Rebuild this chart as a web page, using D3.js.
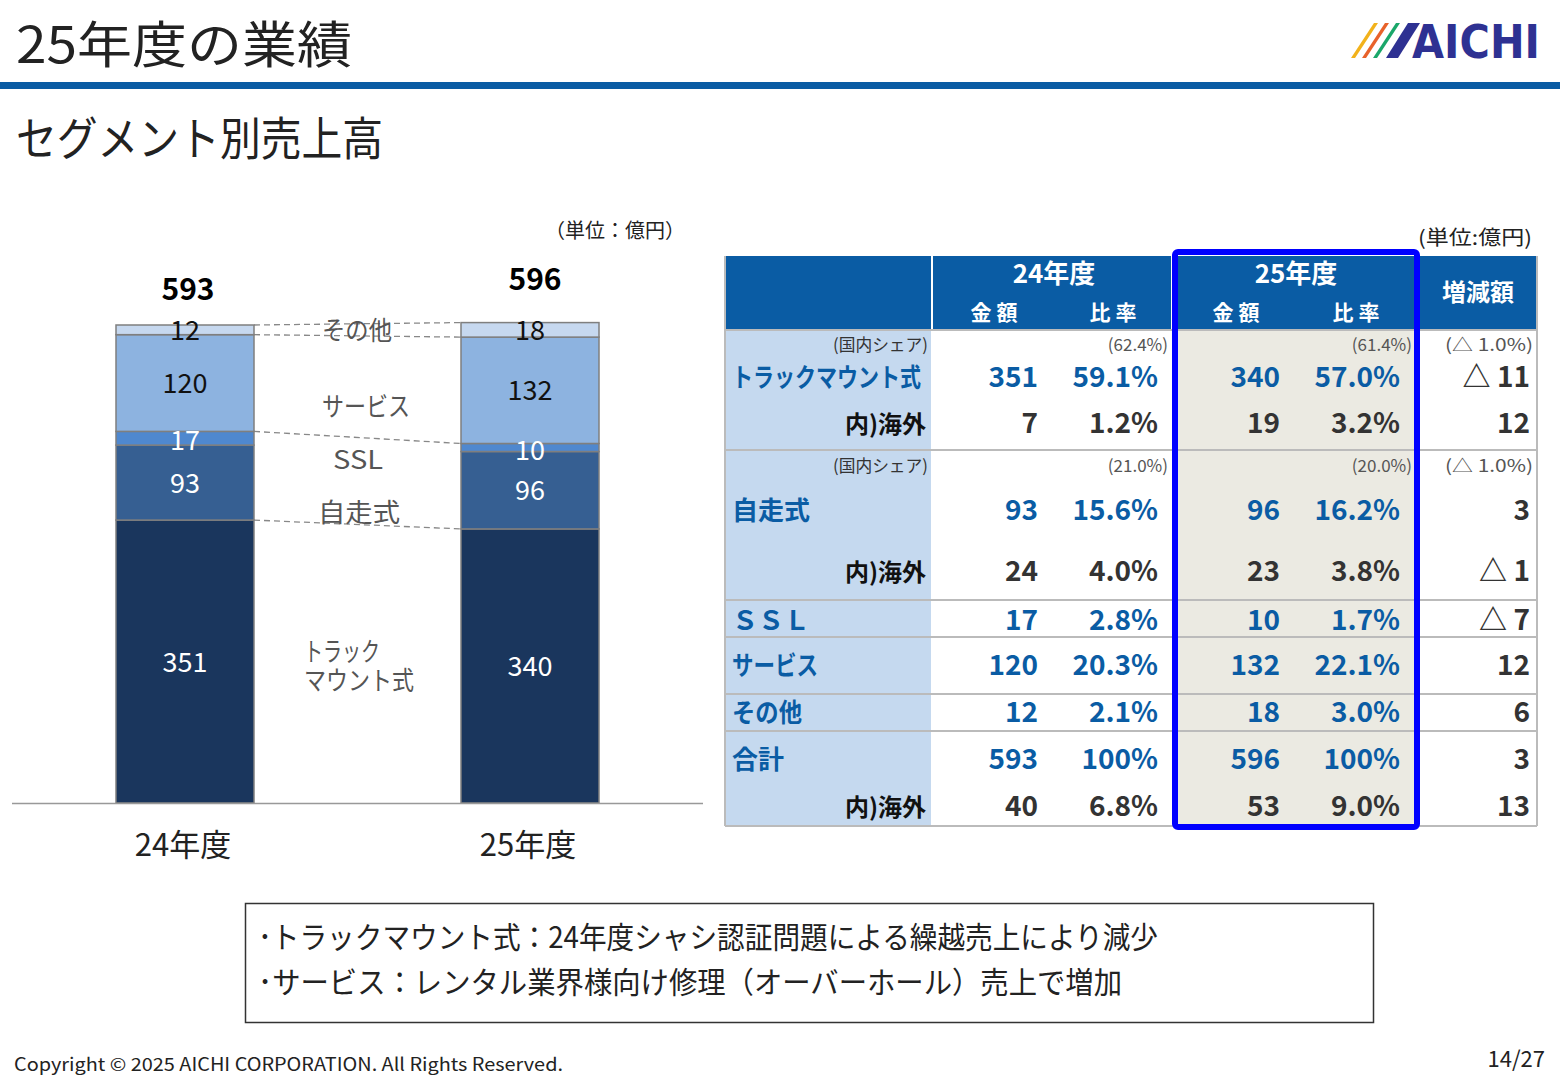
<!DOCTYPE html>
<html><head><meta charset="utf-8">
<script src="https://cdn.jsdelivr.net/npm/d3@7"></script>
<style>body{margin:0;background:#fff;font-family:"Noto Sans CJK JP","Noto Sans",sans-serif}</style>
</head><body><svg id="c" width="1560" height="1080"></svg>
<script>
const years=["24年度","25年度"];
const segments=["トラック\nマウント式","自走式","SSL","サービス","その他"];
const v24=[351,93,17,120,12];
const v25=[340,96,10,132,18];
const totals=[593,596];
const segColors=["#1a365d","#365f92","#4f88cf","#8db3e0","#c6d8ef"];
const labelColors=["#fff","#fff","#fff","#111","#111"];
const tRows=["トラックマウント式","内)海外","自走式","内)海外","ＳＳＬ","サービス","その他","合計","内)海外"];
const amt24=["351","7","93","24","17","120","12","593","40"];
const pct24=["59.1%","1.2%","15.6%","4.0%","2.8%","20.3%","2.1%","100%","6.8%"];
const amt25=["340","19","96","23","10","132","18","596","53"];
const pct25=["57.0%","3.2%","16.2%","3.8%","1.7%","22.1%","3.0%","100%","9.0%"];
const diff=["△ 11","12","3","△ 1","△ 7","12","6","3","13"];
const share24=["(62.4%)","(21.0%)"],share25=["(61.4%)","(20.0%)"],shareDiff=["(△ 1.0%)","(△ 1.0%)"];

const svg=d3.select("#c");
const F='"Noto Sans CJK JP","Noto Sans",sans-serif';
const T=(t,x,y,fs,opts={})=>{const e=svg.append("text").attr("x",x).attr("y",y).attr("font-size",fs).attr("fill",opts.fill||"#222").attr("font-family",F).attr("text-anchor",opts.anchor||"start").attr("font-weight",opts.w||400).text(t);if(opts.len)e.attr("textLength",opts.len).attr("lengthAdjust","spacingAndGlyphs");return e;};
T("25年度の業績",16,63,50,{len:336});
svg.append("rect").attr("x",0).attr("y",82).attr("width",1560).attr("height",7).attr("fill","#0a5ca4");
T("セグメント別売上高",16,155,46,{len:367});
const lg=svg.append("g");
[["#f2b21b",0],["#e8622a",11],["#1aa76a",22]].forEach(([c,o])=>lg.append("polygon").attr("points",`${1351+o},58 ${1355+o},58 ${1378+o},23 ${1374+o},23`).attr("fill",c));
lg.append("polygon").attr("points","1386,58 1398,58 1420,23 1408,23").attr("fill","#2e3192");
lg.append("text").attr("x",1412).attr("y",58).attr("font-size",46).attr("font-weight",900).attr("fill","#2e3192").attr("font-family","DejaVu Sans").attr("textLength",128).attr("lengthAdjust","spacingAndGlyphs").text("AICHI");

const y=d3.scaleLinear().domain([0,600]).range([803,803-600*478/593]);
const x=d3.scaleBand().domain(years).range([116,599]).paddingInner(0.6).paddingOuter(0);
const bw=x.bandwidth();
T("（単位：億円）",545,238,20);
const data=[v24,v25];
const stacks=data.map(arr=>{let c=0;return arr.map(v=>{const s={y0:c,y1:c+v,v};c+=v;return s;});});
const xr0=x(years[0])+bw, xl1=x(years[1]);
[0,2,3,4].forEach(i=>{svg.append("line").attr("x1",xr0).attr("x2",xl1).attr("y1",y(stacks[0][i].y1)).attr("y2",y(stacks[1][i].y1)).attr("stroke","#888").attr("stroke-dasharray","6,4").attr("stroke-width",1.3);});
stacks.forEach((st,j)=>st.forEach((s,i)=>svg.append("rect").attr("x",x(years[j])).attr("width",bw).attr("y",y(s.y1)).attr("height",y(s.y0)-y(s.y1)).attr("fill",segColors[i]).attr("stroke","#7f7f7f").attr("stroke-width",1.5)));
stacks.forEach((st,j)=>{
  st.forEach((s,i)=>{
    T(s.v,x(years[j])+bw/2,(y(s.y0)+y(s.y1))/2+(i==2?2:0)+10,27,{anchor:"middle",fill:labelColors[i]});
  });
  T(totals[j],x(years[j])+bw/2+(j?5:3),y(totals[j])-(j?33:25),30,{anchor:"middle",w:700,fill:"#000"});
  T(years[j],x(years[j])+bw/2-2,856,31,{anchor:"middle"});
});
svg.append("line").attr("x1",12).attr("x2",703).attr("y1",803.5).attr("y2",803.5).attr("stroke","#999").attr("stroke-width",1.5);
const segLabY=[[661,690],[522],[469],[416],[340]];
const segX=[[304,304],[318],[333],[322],[322]];
const segLen=[[76,110],[82],[50],[88],[70]];
segments.forEach((s,i)=>s.split("\n").forEach((t,k)=>T(t,segX[i][k],segLabY[i][k],26,{fill:"#555",len:segLen[i][k]})));

const rowsY=[330,450,600,637,694,731,826];
const g=svg.append("g");
g.append("rect").attr("x",725).attr("y",256).attr("width",812).attr("height",74).attr("fill","#0a5ca4");
g.append("rect").attr("x",725).attr("y",330).attr("width",207).attr("height",496).attr("fill","#c5d9ef");
g.append("rect").attr("x",1172).attr("y",330).attr("width",246).attr("height",496).attr("fill","#ebeae2");
[932,1172,1418].forEach(xx=>g.append("line").attr("x1",xx).attr("x2",xx).attr("y1",256).attr("y2",826).attr("stroke","#fff").attr("stroke-width",2));
rowsY.forEach(yy=>g.append("line").attr("x1",725).attr("x2",1537).attr("y1",yy).attr("y2",yy).attr("stroke","#bbb").attr("stroke-width",2));
[725,1537].forEach(xx=>g.append("line").attr("x1",xx).attr("x2",xx).attr("y1",256).attr("y2",826).attr("stroke","#bbb").attr("stroke-width",2));
const tx=(t,xx,yy,c,anchor,fs,w,len)=>{const e=g.append("text").attr("x",xx).attr("y",yy).attr("text-anchor",anchor).attr("font-size",fs).attr("font-weight",w).attr("fill",c).attr("font-family",F).text(t);if(len)e.attr("textLength",len).attr("lengthAdjust","spacingAndGlyphs");return e;};
tx("24年度",1054,283,"#fff","middle",26,700);tx("25年度",1296,283,"#fff","middle",26,700);tx("増減額",1478,301,"#fff","middle",24,700);
tx("金 額",994,320,"#fff","middle",21,700);tx("比 率",1113,320,"#fff","middle",21,700);tx("金 額",1236,320,"#fff","middle",21,700);tx("比 率",1356,320,"#fff","middle",21,700);
T("(単位:億円)",1418,245,20,{len:114});
const rowY=[387,433,520,581,630,675,722,769,816];
const blue="#0a5ca4";
tRows.forEach((r,i)=>{
  const sub=r.startsWith("内");
  tx(r,sub?926:732,rowY[i],sub?"#111":blue,sub?"end":"start",sub?24:26,700,i==0?189:(i==5?86:(i==6?70:null)));
  const c=sub?"#333":blue;
  tx(amt24[i],1038,rowY[i],c,"end",28,700);
  tx(pct24[i],1158,rowY[i],c,"end",28,700);
  tx(amt25[i],1280,rowY[i],c,"end",28,700);
  tx(pct25[i],1400,rowY[i],c,"end",28,700);
  tx(diff[i],1530,rowY[i],"#333","end",28,700);
});
[351,472].forEach((yy,k)=>{
  tx("(国内シェア)",928,yy,"#333","end",17,400,95);
  tx(share24[k],1168,yy,"#555","end",17,400);
  tx(share25[k],1412,yy,"#555","end",17,400);
  tx(shareDiff[k],1533,yy,"#555","end",17,400,88);
});
svg.append("rect").attr("x",1175).attr("y",252).attr("width",242).attr("height",575).attr("fill","none").attr("stroke","#0000ff").attr("stroke-width",6).attr("rx",3);

svg.append("rect").attr("x",245.5).attr("y",903.5).attr("width",1128).attr("height",119).attr("fill","none").attr("stroke","#333").attr("stroke-width",1.5);
T("･トラックマウント式：24年度シャシ認証問題による繰越売上により減少",258,948,30,{len:900});
T("･サービス：レンタル業界様向け修理（オーバーホール）売上で増加",258,993,30,{len:864});
T("Copyright © 2025  AICHI CORPORATION. All Rights Reserved.",14,1071,18,{len:549});
T("14/27",1545,1067,22,{anchor:"end"});
</script></body></html>
